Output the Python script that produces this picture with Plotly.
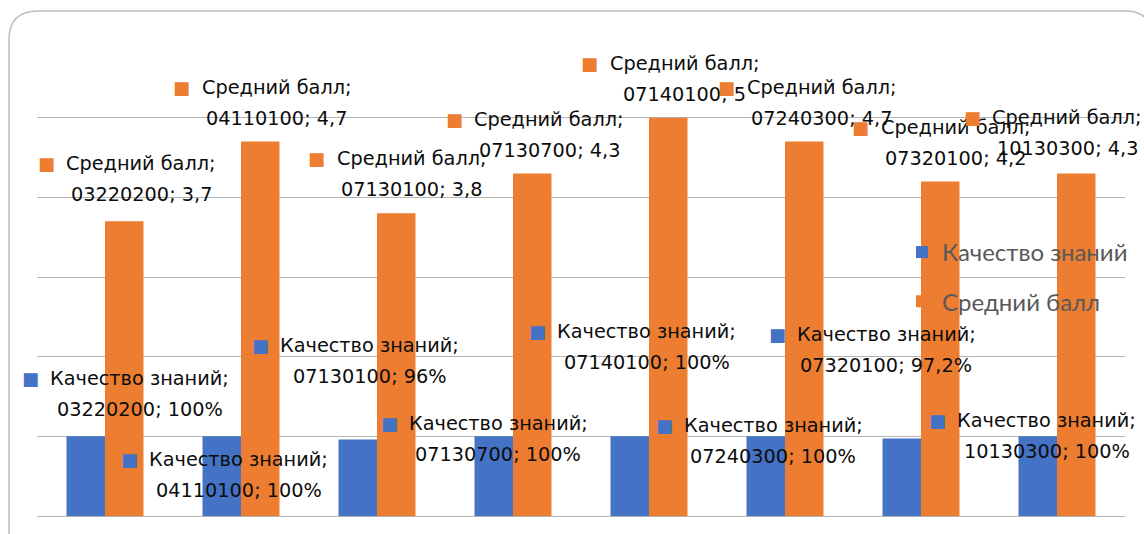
import plotly.graph_objects as go

# ---- data ----
codes = ["03220200", "04110100", "07130100", "07130700",
         "07140100", "07240300", "07320100", "10130300"]
quality_name = "Качество знаний"
score_name = "Средний балл"
quality = [1.0, 1.0, 0.96, 1.0, 1.0, 1.0, 0.972, 1.0]   # fraction (100% = 1)
score = [3.7, 4.7, 3.8, 4.3, 5.0, 4.7, 4.2, 4.3]

# ---- label anchor positions (category index, y value) ----
score_lbl_x = [0.268, 1.261, 2.257, 3.265, 4.261, 5.272, 6.257, 7.074]
score_lbl_y = [4.43, 5.385, 4.49, 4.98, 5.686, 5.385, 4.88, 5.008]
qual_lbl_x = [0.254, 0.985, 1.945, 2.890, 3.982, 4.915, 5.746, 6.923]
qual_lbl_y = [1.732, 0.703, 2.134, 1.167, 2.31, 1.13, 2.284, 1.205]

BLUE = "#4472C4"
ORANGE = "#ED7D31"
OFF = 0                      # page body margin (removed by post_script)
W, H = 1144, 534
# plot area in screen pixels: x 37..1125, y 38..516
L, T = 37 - OFF, 38 - OFF
R = W - (1125 - OFF)
B = H - (516 - OFF)

fig = go.Figure()
fig.add_trace(go.Bar(x=codes, y=quality, name=quality_name, marker_color=BLUE,
                     marker_line_width=0, legendgroup="a"))
fig.add_trace(go.Bar(x=codes, y=score, name=score_name, marker_color=ORANGE,
                     marker_line_width=0, legendgroup="b"))


def fmt_num(v):
    return f"{round(v, 1):g}".replace(".", ",")


LBL_FONT = dict(family="DejaVu Sans", size=19.3, color="#0d0d0d")
ann = []


def add_label(x, y, series, code, val, color, sq_shift):
    ann.append(dict(x=x, y=y, xref="x", yref="y", text=series + ";",
                    showarrow=False, font=LBL_FONT, xanchor="center", yanchor="middle"))
    ann.append(dict(x=x, y=y, xref="x", yref="y", text=f"{code}; {val}",
                    showarrow=False, font=LBL_FONT, xanchor="center", yanchor="middle",
                    yshift=-31))
    ann.append(dict(x=x, y=y, xref="x", yref="y", text="■",
                    showarrow=False, font=dict(family="DejaVu Sans", size=18, color=color),
                    xanchor="center", yanchor="middle", xshift=sq_shift))


for i, c in enumerate(codes):
    add_label(score_lbl_x[i], score_lbl_y[i], score_name, c, fmt_num(score[i]), ORANGE, -95)
    add_label(qual_lbl_x[i], qual_lbl_y[i], quality_name, c,
              fmt_num(quality[i] * 100) + "%", BLUE, -109)

pw, ph = W - L - R, H - T - B


def px(x):  # screen x -> paper
    return (x - OFF - L) / pw


def py(y):  # screen y -> paper
    return (H - B - (y - OFF)) / ph


border = (f"M {px(9)},{py(560)} L {px(9)},{py(40)} Q {px(9)},{py(11)} {px(38)},{py(11)} "
          f"L {px(1125)},{py(11)} Q {px(1152)},{py(11)} {px(1152)},{py(38)} L {px(1152)},{py(560)}")

fig.update_layout(
    width=W, height=H,
    margin=dict(l=L, r=R, t=T, b=B, autoexpand=False),
    paper_bgcolor="white", plot_bgcolor="white",
    barmode="group", bargap=0.434, bargroupgap=0,
    showlegend=True,
    legend=dict(x=px(902), y=py(230), xanchor="left", yanchor="top",
                font=dict(family="Lato", size=24, color="#595959"),
                traceorder="grouped", tracegroupgap=15,
                bgcolor="rgba(0,0,0,0)"),
    xaxis=dict(range=[-0.5, len(codes) - 0.5], showticklabels=False, showgrid=False,
               zeroline=False, showline=False, ticks=""),
    yaxis=dict(range=[0, 6], dtick=1, showticklabels=False, showgrid=True,
               gridcolor="#B4B4B4", gridwidth=1, zeroline=True,
               zerolinecolor="#B4B4B4", zerolinewidth=1, ticks=""),
    annotations=ann,
    shapes=[dict(type="path", path=border, xref="paper", yref="paper",
                 line=dict(color="#BDBDBD", width=1.5), layer="above")],
)

fig.write_html("out.html",
               config={"displayModeBar": False},
               post_script="document.body.style.margin='0';"
                           "document.body.style.overflow='hidden';")
